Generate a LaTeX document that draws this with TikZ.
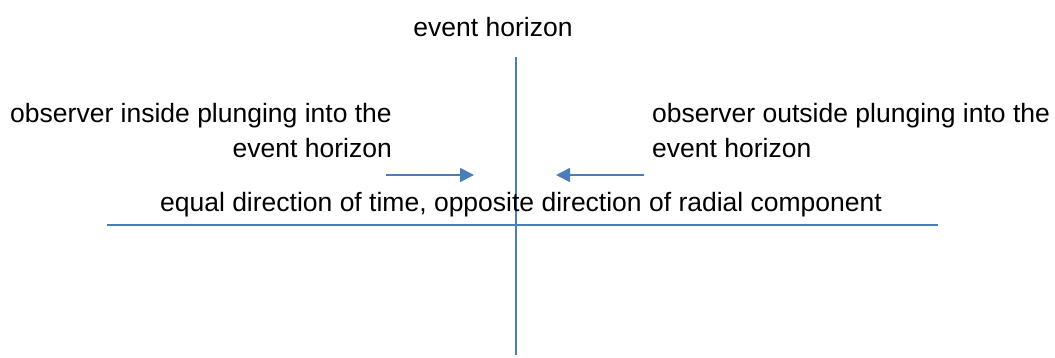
\documentclass[tikz,border=0pt]{standalone}
\usepackage{fontspec}
\setmainfont{Liberation Sans}
\usetikzlibrary{arrows.meta}
\definecolor{lineblue}{HTML}{4A7EBB}
\begin{document}
\begin{tikzpicture}[x=1pt,y=-1pt,
  axis/.style={draw=lineblue,line width=1.6pt},
  obsarrow/.style={draw=lineblue,line width=1.6pt,-{Triangle[length=14pt,width=14pt]}},
  lbl/.style={font=\fontsize{26.5pt}{35pt}\selectfont,inner sep=0pt,align=center}]
\useasboundingbox (0,0) rectangle (1055,358);
\coordinate (vtop) at (516,57);
\coordinate (vbot) at (516,355);
\coordinate (hl) at (107,225);
\coordinate (hr) at (938,225);
\draw[axis] (vtop) -- (vbot);
\draw[axis] (hl) -- (hr);
\node[lbl] (eh) at (493,27) {event horizon};
\node[lbl,anchor=east,align=right] (inside) at (392,131) {observer inside plunging into the\\event horizon};
\node[lbl,anchor=west,align=left] (outside) at (652,131) {observer outside plunging into the\\event horizon};
\node[lbl] (eq) at (521,205) {equal direction of time, opposite direction of radial component};
\coordinate (a1s) at (386,175);
\coordinate (a1e) at (474,175);
\coordinate (a2s) at (644,175);
\coordinate (a2e) at (556,175);
\draw[obsarrow] (a1s) -- (a1e);
\draw[obsarrow] (a2s) -- (a2e);
\end{tikzpicture}
\end{document}
